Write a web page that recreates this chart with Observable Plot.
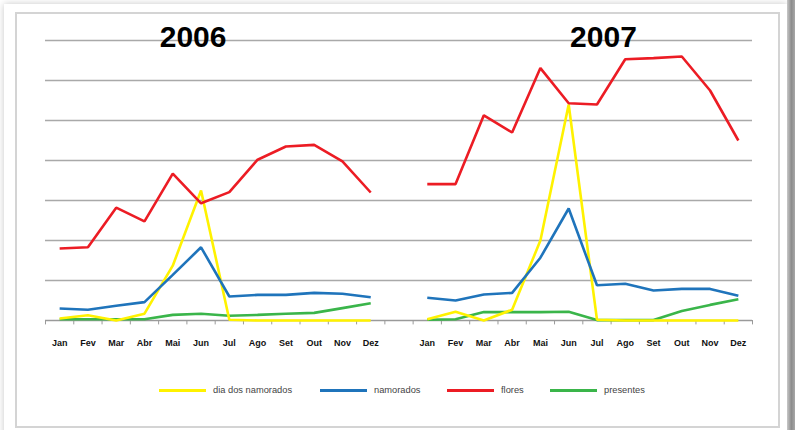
<!DOCTYPE html>
<html>
<head>
<meta charset="utf-8">
<script src="https://cdn.jsdelivr.net/npm/d3@7"></script>
<script src="https://cdn.jsdelivr.net/npm/@observablehq/plot@0.6"></script>
<style>
  html, body { margin: 0; padding: 0; background: #fff; }
  #wrap { position: relative; width: 795px; height: 430px; overflow: hidden; background: #fff; }
  #shadow { position: absolute; left: 4px; top: 4px; width: 783px; height: 440px; background: #fff;
            box-shadow: 0 0 7px rgba(0,0,0,0.22); }
  #strip { position: absolute; left: 787px; top: 0; width: 8px; height: 430px;
           background: linear-gradient(to right, #c8c8c8, #8c8c8c 55%, #a8a8a8); }
  #frame { position: absolute; left: 15px; top: 12px; width: 761px; height: 412px;
           border: 2px solid #d4d4d4; background: #fff; }
  #chart { position: absolute; left: 0; top: 0; }
  #legend { position: absolute; left: 0; top: 382px; width: 795px; height: 16px;
            font-family: "Liberation Sans", Arial, sans-serif; font-size: 9.3px; color: #444; }
  .item { position: absolute; top: 0; height: 16px; display: flex; align-items: center; }
  .sw { width: 47px; height: 3px; margin-right: 7px; }
</style>
</head>
<body>
<div id="wrap">
  <div id="shadow"></div>
  <div id="strip"></div>
  <div id="frame"></div>
  <div id="chart"></div>
  <div id="legend"></div>
</div>
<script>
const months = ["Jan","Fev","Mar","Abr","Mai","Jun","Jul","Ago","Set","Out","Nov","Dez"];
const years = ["2006","2007"];
const series = ["dia dos namorados","namorados","flores","presentes"];
const colors = ["#fff200","#1f74bb","#ec1c24","#3ab54a"];

const diaNamorados2006 = [0.05,0.13,0,0.17,1.37,3.25,0.02,0,0,0,0,0];
const diaNamorados2007 = [0.03,0.22,0,0.27,2.0,5.4,0.02,0,0,0,0,0];
const namorados2006 = [0.3,0.27,0.37,0.46,1.14,1.83,0.6,0.64,0.64,0.69,0.67,0.58];
const namorados2007 = [0.57,0.5,0.65,0.69,1.57,2.8,0.88,0.92,0.75,0.79,0.79,0.62];
const flores2006 = [1.8,1.83,2.82,2.48,3.67,2.93,3.21,4.02,4.35,4.39,3.98,3.2];
const flores2007 = [3.41,3.41,5.13,4.7,6.31,5.43,5.4,6.53,6.56,6.6,5.75,4.5];
const presentes2006 = [0.03,0.03,0.03,0.03,0.14,0.17,0.12,0.14,0.17,0.19,0.31,0.43];
const presentes2007 = [0.02,0.03,0.21,0.21,0.21,0.22,0.01,0.01,0.01,0.24,0.39,0.53];

const valuesBySeries = {
  "dia dos namorados": [diaNamorados2006, diaNamorados2007],
  "namorados": [namorados2006, namorados2007],
  "flores": [flores2006, flores2007],
  "presentes": [presentes2006, presentes2007]
};

// position index: 2006 months 0..11, gap at 12, 2007 months 13..24
const pos = (yi, mi) => yi * 13 + mi + 0.5;

const rows = [];
for (const s of series) {
  years.forEach((yr, yi) => {
    valuesBySeries[s][yi].forEach((v, mi) => {
      rows.push({series: s, year: yr, month: months[mi], x: pos(yi, mi), value: v});
    });
  });
}

const tickCenters = [];
const tickLabels = new Map();
years.forEach((yr, yi) => months.forEach((m, mi) => {
  tickCenters.push(pos(yi, mi));
  tickLabels.set(pos(yi, mi), m);
}));
const boundaries = d3.range(0, 26);
const gridLevels = d3.range(1, 8);

const drawOrder = ["presentes","dia dos namorados","namorados","flores"];

const chart = Plot.plot({
  width: 795,
  height: 360,
  marginLeft: 45,
  marginRight: 43,
  marginTop: 40,
  marginBottom: 40,
  x: {domain: [0, 25], axis: null, label: null},
  y: {domain: [0, 7], axis: null, label: null},
  color: {domain: series, range: colors},
  marks: [
    Plot.ruleY(gridLevels, {stroke: "#a9a9a9", strokeWidth: 1.3}),
    Plot.ruleY([0], {stroke: "#9a9a9a", strokeWidth: 1.3}),
    Plot.ruleX(boundaries, {y1: 0, y2: -0.11, stroke: "#9a9a9a", strokeWidth: 1}),
    Plot.axisX(tickCenters, {
      tickSize: 0, tickPadding: 19, label: null,
      tickFormat: d => tickLabels.get(d),
      fontWeight: "bold", fontSize: 9,
      fontFamily: "'Liberation Sans Narrow', 'Liberation Sans', Arial, sans-serif",
      fill: "#111"
    }),
    ...drawOrder.map(s => Plot.line(rows.filter(r => r.series === s), {
      x: "x", y: "value", z: "year", stroke: "series", strokeWidth: 2.6,
      strokeLinejoin: "miter", strokeLinecap: "butt"
    })),
    Plot.text(years, {
      x: (d, i) => [5.22, 19.73][i], y: 7.09, text: d => d,
      fontSize: 30, fontWeight: "bold", fill: "#000",
      fontFamily: "'Liberation Sans', Arial, sans-serif"
    })
  ]
});
document.getElementById("chart").appendChild(chart);

// legend
const legendX = [159, 320, 447, 550];
const legend = document.getElementById("legend");
series.forEach((s, i) => {
  const it = document.createElement("div");
  it.className = "item";
  it.style.left = legendX[i] + "px";
  const sw = document.createElement("span");
  sw.className = "sw";
  sw.style.background = colors[i];
  const tx = document.createElement("span");
  tx.textContent = s;
  it.appendChild(sw); it.appendChild(tx);
  legend.appendChild(it);
});
</script>
</body>
</html>
